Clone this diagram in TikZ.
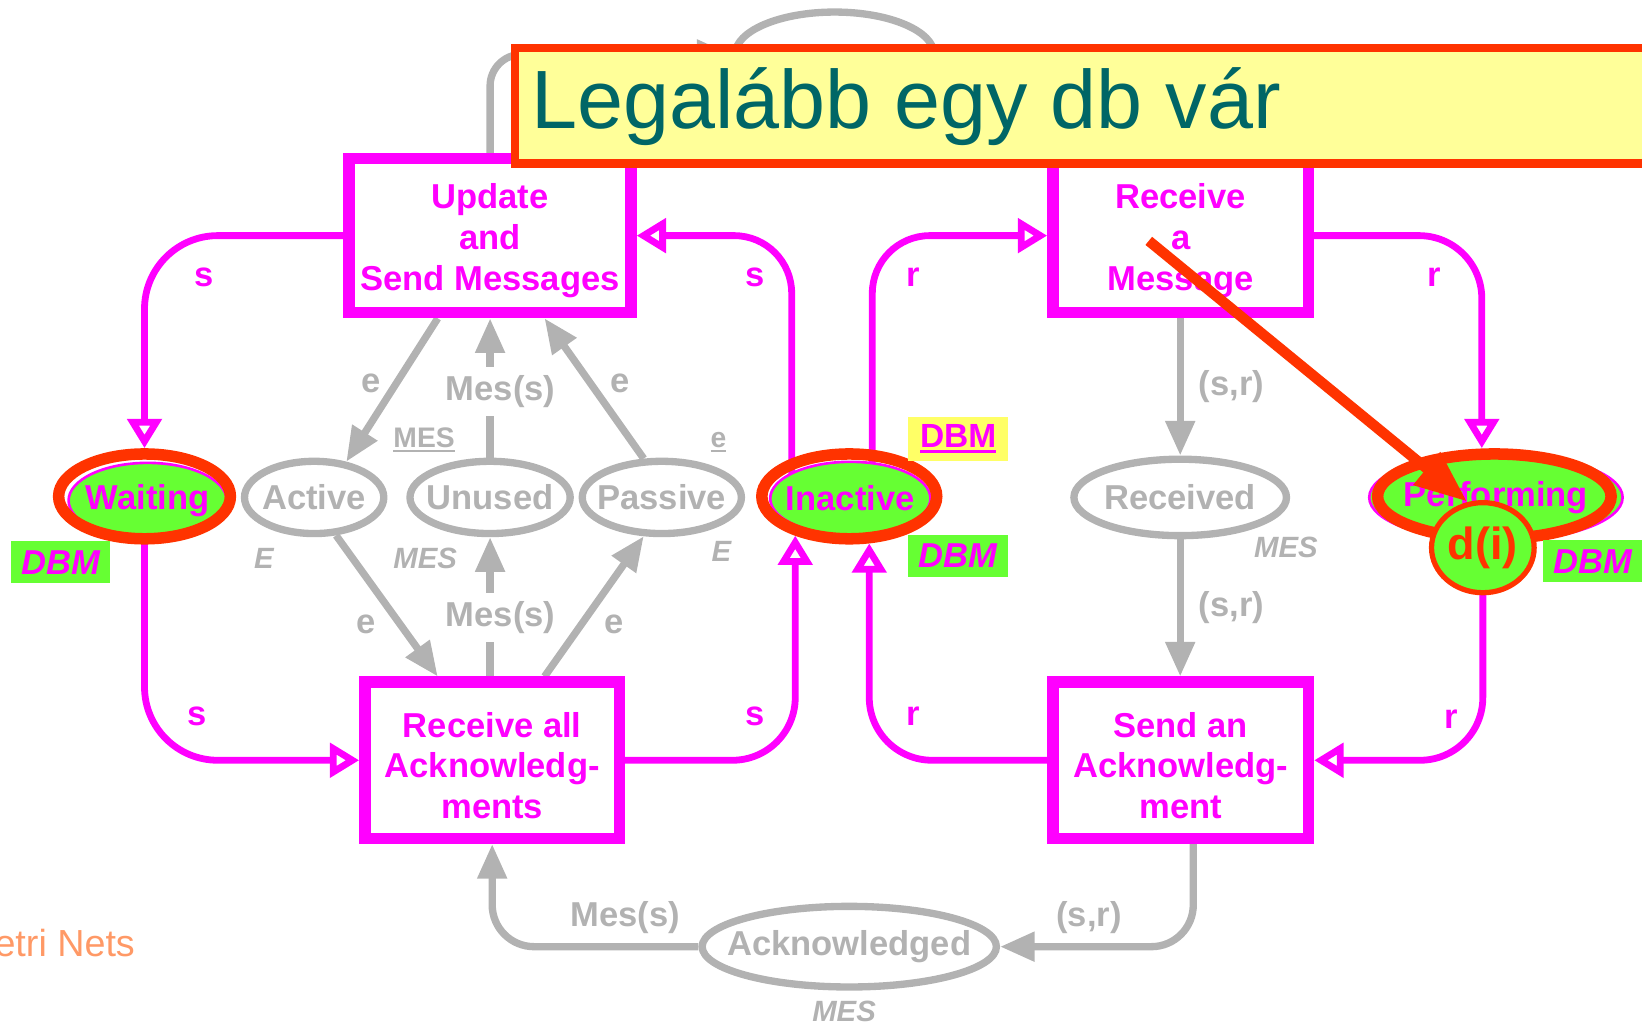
\documentclass[tikz,border=0pt]{standalone}
\usepackage{fontspec}
\setmainfont{Liberation Sans}
\usetikzlibrary{arrows.meta,shapes.geometric,calc}

\definecolor{mag}{RGB}{255,0,255}
\definecolor{grn}{RGB}{102,255,51}
\definecolor{rd}{RGB}{255,51,0}
\definecolor{gr}{RGB}{178,178,178}
\definecolor{tealtxt}{RGB}{0,102,102}
\definecolor{ylw}{RGB}{255,255,153}
\definecolor{ylwb}{RGB}{255,255,102}
\definecolor{org}{RGB}{255,153,102}

\pgfdeclarelayer{arcs}
\pgfsetlayers{arcs,main}

% text centred without widening its node
\newcommand\ctext[1]{\makebox[0pt]{#1}}
% underlined text: #1 depth of the rule, #2 its thickness, #3 text
\newcommand\ulbox[3]{\setbox0\hbox{#3}\rlap{\copy0}\rule[-#1]{\wd0}{#2}}
\newcommand\fsz[2]{\fontsize{#1}{#2}\selectfont}
% taller first line, so that the block of text sits a little lower
\newcommand\tl{\rule{0pt}{34pt}}

\tikzset{
  trans/.style={rectangle, draw=mag, line width=11, fill=white, text=mag,
    align=center, inner sep=0, font=\bfseries\fsz{33}{39}},
  gplace/.style={ellipse, draw=gr, line width=7, fill=white, text=gr,
    inner sep=0, font=\bfseries\fsz{33}{39}},
  mplace/.style={ellipse, draw=mag, line width=2.5, fill=grn, text=mag,
    inner sep=0, font=\bfseries\fsz{33}{39}},
  ring/.style={ellipse, draw=rd, line width=11, inner sep=0},
  token/.style={ellipse, draw=rd, line width=5, fill=grn, text=rd,
    inner sep=0, font=\bfseries\fsz{43}{48}},
  marc/.style={draw=mag, line width=6.5,
    -{Triangle[open, fill=white, length=28pt, width=32pt]}},
  garc/.style={draw=gr, line width=7, -{Triangle[length=33pt, width=27pt]}},
  mlab/.style={text=mag, inner sep=0, font=\bfseries\fsz{33}{39}},
  glab/.style={text=gr, inner sep=0, font=\bfseries\fsz{33}{39}},
  gbox/.style={text=gr, fill=white, inner xsep=2, inner ysep=8, font=\bfseries\fsz{33}{39}},
  slab/.style={text=gr, inner sep=0, font=\bfseries\itshape\fsz{28}{32}},
  dbm/.style={fill=grn, text=mag, inner sep=0, minimum width=95, minimum height=40,
    font=\bfseries\itshape\fsz{33}{39}},
}

\begin{document}
\begin{tikzpicture}[x=1pt, y=-1pt]
\useasboundingbox (0,0) rectangle (1568,979);

% ---- transitions
\node[trans, minimum width=269, minimum height=147] (upd) at (468,225) {\tl Update\\and\\Send Messages};
\node[trans, minimum width=244, minimum height=147] (rcvm) at (1127.5,225) {\tl Receive\\a\\Message};
\node[trans, minimum width=243, minimum height=149] (rall) at (470,726) {\tl Receive all\\Acknowledg-\\ments};
\node[trans, minimum width=244, minimum height=149] (sack) at (1127.5,726) {\tl Send an\\Acknowledg-\\ment};

% ---- places
\node[gplace, minimum width=190, minimum height=81] (sent) at (797,52) {};
\node[gplace, minimum width=133, minimum height=69] (act) at (300,475) {\ctext{Active}};
\node[gplace, minimum width=153, minimum height=69] (unused) at (468,475) {\ctext{Unused}};
\node[gplace, minimum width=152, minimum height=69] (pass) at (632,475) {\ctext{Passive}};
\node[gplace, minimum width=203, minimum height=73] (recv) at (1127,475) {\ctext{Received}};
\node[gplace, minimum width=281, minimum height=77] (ack) at (811,904) {\ctext{Acknowledged}};

\node[mplace, minimum width=151, minimum height=72] (wait) at (141,478) {\ctext{Waiting}};
\node[ring, minimum width=164, minimum height=81] (waitr) at (138,474) {};
\node[mplace, minimum width=153, minimum height=70] (inact) at (812,476) {\ctext{Inactive}};
\node[ring, minimum width=167, minimum height=81] (inactr) at (811,474) {};
\node[mplace, minimum width=242, minimum height=84] (perf) at (1428.5,475) {\ctext{Performing}};
\node[ring, minimum width=223, minimum height=81] (perfr) at (1427,474) {};
\node[token, minimum width=98, minimum height=86] (di) at (1416,523) {\ctext{d(i)}};

\begin{pgfonlayer}{arcs}
% ---- gray arcs (message flow)
\draw[garc, rounded corners=30] (upd.north) |- (sent.west);
\draw[garc] ($(upd.south)+(-50,0)$) -- (act.48);
\draw[garc] (unused.north) -- (upd.south);
\draw[garc] (pass.115) -- ($(upd.south)+(52,0)$);
\draw[garc] (act.-60) -- ($(rall.north)+(-52,0)$);
\draw[garc] (rall.north -| unused.south) -- (unused.south);
\draw[garc] ($(rall.north)+(50,0)$) -- (pass.-115);
\draw[garc] (rcvm.south -| recv.north) -- (recv.north);
\draw[garc] (recv.south) -- (recv.south |- sack.north);
\draw[garc, rounded corners=40] ($(sack.south)+(12,0)$) |- (ack.east);
\draw[garc, rounded corners=40] (ack.west) -| (rall.south);

% ---- magenta arcs (database managers)
\draw[marc, rounded corners=70] (upd.west) -| (waitr.north);
\draw[marc, rounded corners=55] ($(inactr.center)+(-55,0)$) |- (upd.east);
\draw[marc, rounded corners=55] ($(inactr.center)+(22,0)$) |- (rcvm.west);
\draw[marc, rounded corners=60] (rcvm.east) -| ($(perfr.north)+(-12,0)$);
\draw[marc, rounded corners=70] (waitr.center) |- (rall.west);
\draw[marc, rounded corners=60] (rall.east) -| (inactr.-144);
\draw[marc, rounded corners=60] (sack.west) -| (inactr.-67);
\draw[marc, rounded corners=60] (di.center) |- (sack.east);
\end{pgfonlayer}

% ---- arc inscriptions
\node[mlab] (s1) at (195,265) {s};
\node[mlab] (s2) at (721,265) {s};
\node[mlab] (s3) at (188,684) {s};
\node[mlab] (s4) at (721,684) {s};
\node[mlab] (r1) at (872,265) {r};
\node[mlab] (r2) at (1370,265) {r};
\node[mlab] (r3) at (872,684) {r};
\node[mlab] (r4) at (1386,687) {r};

\node[glab] (e1) at (354,366) {e};
\node[gbox] (mes1) at (478,374) {Mes(s)};
\node[glab] (e2) at (592,366) {e};
\node[glab] (e3) at (350,596) {e};
\node[gbox] (mes2) at (478,590) {Mes(s)};
\node[glab] (e4) at (586,596) {e};
\node[glab] (sr1) at (1176,369) {(s,r)};
\node[glab] (sr2) at (1176,580) {(s,r)};
\node[glab] (mes3) at (597,876) {Mes(s)};
\node[glab] (sr3) at (1040,876) {(s,r)};

% ---- colour sets and initial markings
\node[slab] (cs1) at (252,533) {E};
\node[slab] (cs2) at (406,533) {MES};
\node[slab] (cs3) at (689,527) {E};
\node[slab] (cs4) at (1228,523) {MES};
\node[slab] (cs5) at (806,966) {MES};
\node[slab, font=\bfseries\fsz{27}{30}, anchor=base] (im1) at (405,427) {\ulbox{5pt}{2.5pt}{MES}};
\node[slab, font=\bfseries\fsz{27}{30}, anchor=base] (im2) at (686,427) {\ulbox{5pt}{2.5pt}{e}};

\node[dbm] (dbm1) at (58,537) {DBM};
\node[dbm, fill=ylwb, font=\bfseries\fsz{32}{38}, minimum height=42] (dbm2) at (915,419) {\ulbox{6pt}{3.5pt}{DBM}};
\node[dbm] (dbm3) at (915,531) {DBM};
\node[dbm, minimum width=96] (dbm4) at (1521,536) {DBM};

% ---- footer
\node[anchor=base east, text=org, inner sep=0, font=\fsz{36}{40}] (foot) at (129,913) {Petri Nets};

% ---- banner
\node[rectangle, draw=rd, line width=8, fill=ylw, anchor=north west,
      minimum width=1130, minimum height=110, inner sep=0] (banner) at (488,42) {};
\node[anchor=base west, text=tealtxt, inner sep=0, font=\fsz{79}{90}] (bannertext) at (507,123) {Legalább egy db vár};

% ---- pointer
\coordinate (pstart) at (1097,230);
\coordinate (ptip) at (1401,479);
\draw[rd, line width=10, -{Triangle[length=50pt, width=38pt]}] (pstart) -- (ptip);
\end{tikzpicture}
\end{document}
